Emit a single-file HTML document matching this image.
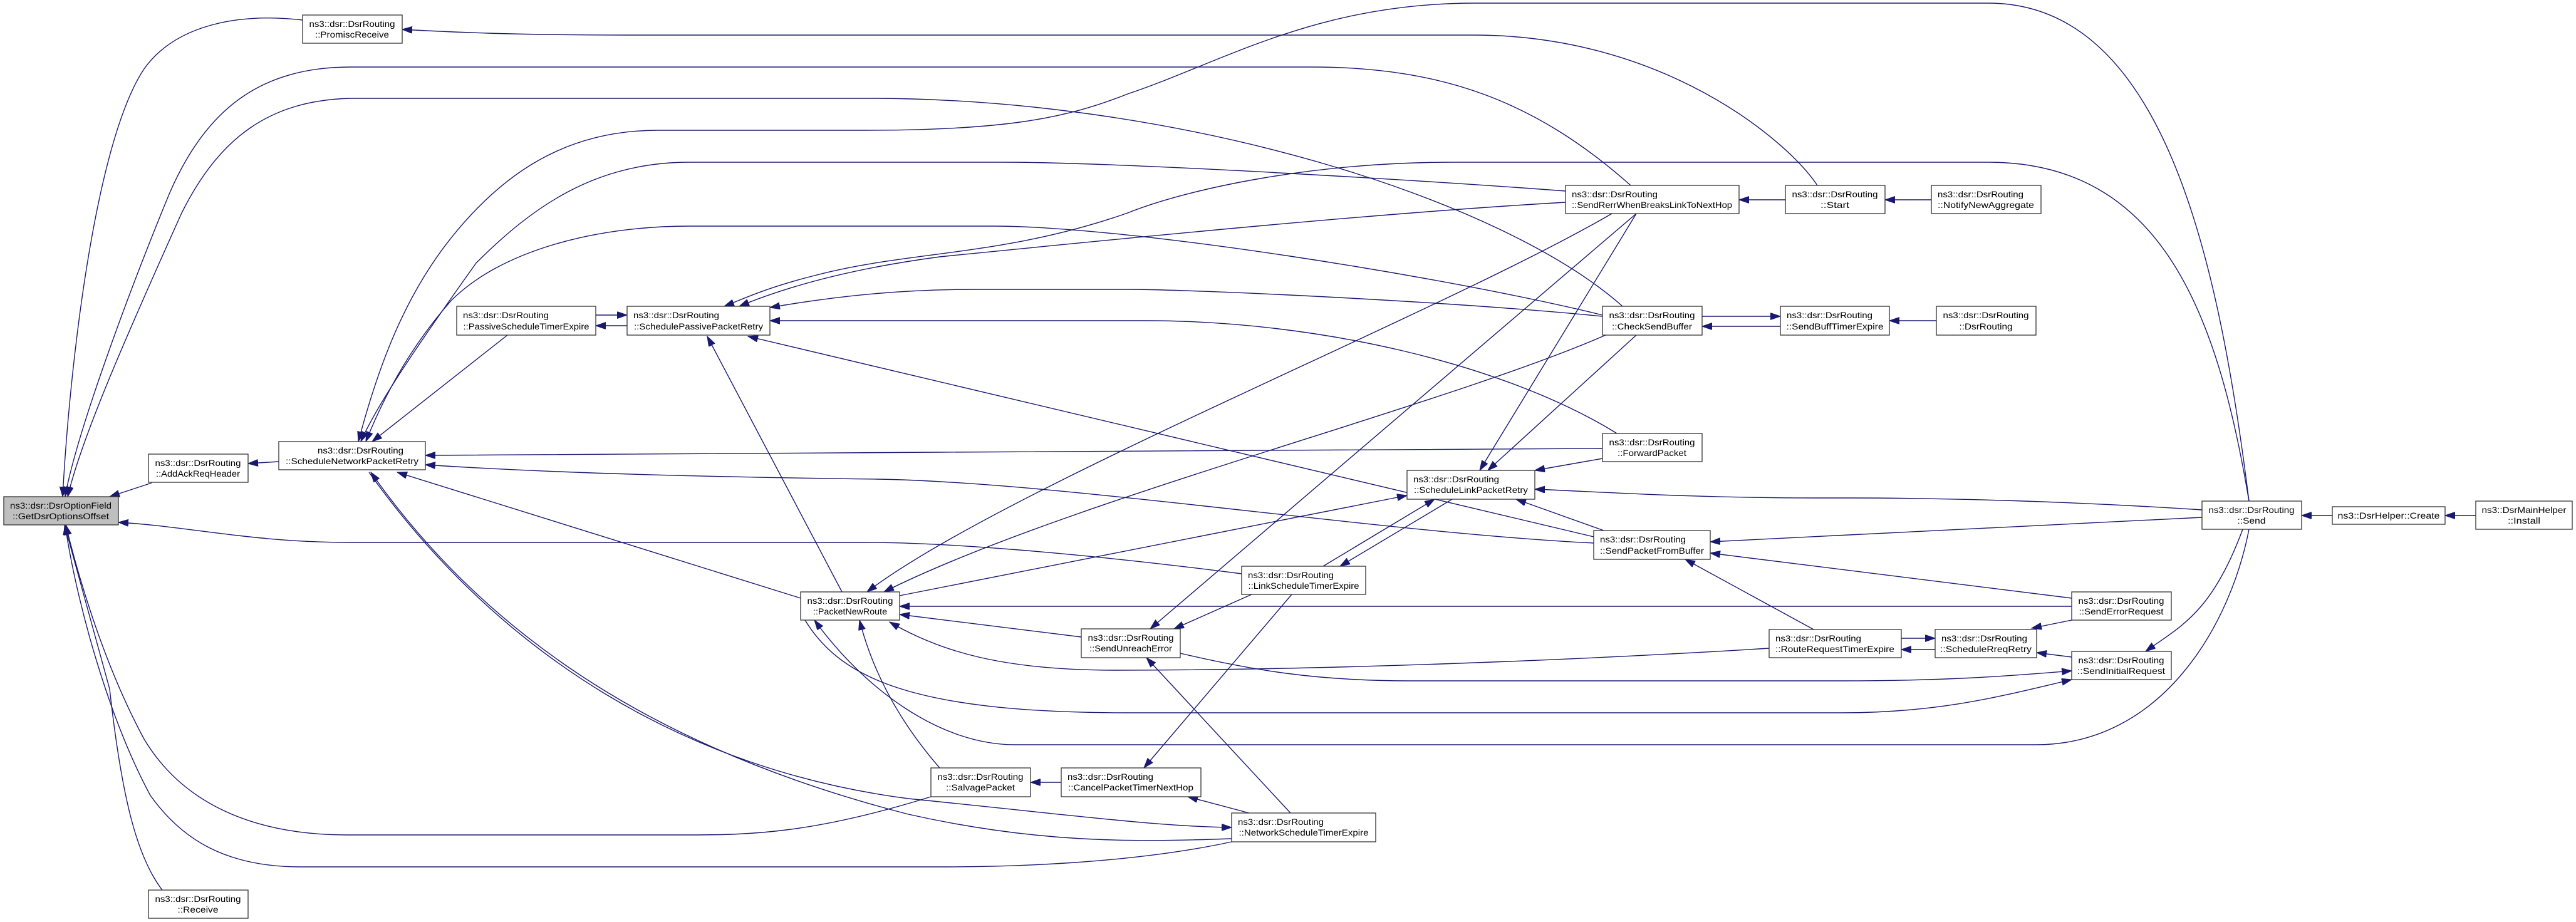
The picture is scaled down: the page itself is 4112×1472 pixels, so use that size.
<!DOCTYPE html>
<html><head><meta charset="utf-8"><style>
html,body{margin:0;padding:0;background:#fff;}
svg{display:block;}
text{font-family:"Liberation Sans",sans-serif;font-size:14px;fill:#000;}
</style></head><body>
<svg width="4112" height="1472" viewBox="0 0 4112 1472" xmlns="http://www.w3.org/2000/svg">
<defs>
<marker id="a" markerUnits="userSpaceOnUse" markerWidth="18" markerHeight="12" refX="16" refY="5.5" orient="auto">
<path d="M0,0 L16,5.5 L0,11 z" fill="#191970" stroke="#191970"/>
</marker>
</defs>
<g fill="none" stroke="#191970" stroke-width="1.4" marker-end="url(#a)">
<path d="M2901,296 C2850,220 2650,56 2353,56 L1000,56 C800,56 700,50 642,47"/>
<path d="M483,32 C380,20 280,40 230,110 C150,230 110,600 100,793"/>
<path d="M2603,296 C2450,160 2300,107 2094,107 L560,107 C420,107 330,170 270,310 C200,480 120,700 104,793"/>
<path d="M2590,489 C2400,320 1900,160 1400,157 L560,157 C430,160 350,220 290,340 C200,540 130,700 108,793"/>
<path d="M3590,800 C3540,400 3450,5 3174,5 L2353,5 C2100,5 1950,100 1800,150 C1700,190 1600,208 1380,208 L1050,208 C900,208 800,280 720,380 C640,480 600,600 572,705"/>
<path d="M2499,305 C2300,290 1800,259 1600,259 L1100,259 C950,259 850,330 760,420 C660,560 600,650 576,705"/>
<path d="M2558,503 C2300,440 1800,361 1585,361 L1100,361 C950,361 800,400 720,480 C650,560 610,640 584,705"/>
<path d="M810,535 L594,705"/>
<path d="M3590,800 C3540,500 3450,259 3174,259 L2317,259 C2100,259 1900,300 1800,340 C1600,410 1450,400 1300,440 C1220,460 1180,480 1156,489"/>
<path d="M2499,323 C2200,340 1800,380 1500,410 C1350,430 1250,460 1180,489"/>
<path d="M2558,505 C2300,480 1900,462 1800,462 L1560,462 C1450,462 1350,470 1229,491"/>
<path d="M2581,692 C2400,580 2100,512 1830,512 L1229,512"/>
<path d="M2544,857 L1194,537"/>
<path d="M1344,945 L1129,537"/>
<path d="M951,503 L1001,503"/>
<path d="M1001,520 L951,520"/>
<path d="M2558,716 L1500,722 L679,727"/>
<path d="M2544,867 C2200,850 1700,770 1400,765 C1000,760 800,750 679,742"/>
<path d="M1278,955 L634,754"/>
<path d="M589,754 C800,1050 1100,1230 1450,1275 C1700,1300 1850,1320 1966,1321"/>
<path d="M1966,1339 C1800,1345 1650,1345 1450,1300 C1100,1210 800,1050 592,754"/>
<path d="M1982,916 C1700,880 1500,866 1380,866 L560,866 C400,866 300,840 189,834"/>
<path d="M1486,1272 C1300,1330 1200,1333 1100,1333 L554,1333 C400,1333 290,1280 230,1180 C160,1050 120,900 105,838"/>
<path d="M1966,1344 C1800,1380 1600,1384 1500,1384 L480,1384 C360,1384 290,1340 240,1270 C170,1140 120,950 104,838"/>
<path d="M259,1421 C220,1370 195,1280 175,1100 L103,838"/>
<path d="M242,771 L175,793"/>
<path d="M445,737 L396,740"/>
<path d="M2573,341 C2300,500 1600,780 1384,945"/>
<path d="M2563,535 C2300,650 1700,800 1411,945"/>
<path d="M1436,951 L2246,791"/>
<path d="M3307,968 L1436,968"/>
<path d="M1726,1017 L1436,981"/>
<path d="M2824,1035 C2500,1055 2100,1070 1780,1070 C1600,1070 1500,1040 1420,993"/>
<path d="M1285,990 C1340,1080 1450,1138 1800,1138 L2940,1138 C3100,1138 3200,1110 3307,1085"/>
<path d="M3590,845 C3560,1000 3450,1189 3250,1189 L1620,1189 C1500,1189 1380,1100 1300,990"/>
<path d="M1500,1226 C1460,1180 1400,1100 1372,990"/>
<path d="M2612,341 L1836,1004"/>
<path d="M1998,949 L1874,1004"/>
<path d="M2060,1298 L1830,1050"/>
<path d="M2062,949 L1826,1226"/>
<path d="M1694,1249 L1645,1249"/>
<path d="M1994,1298 L1896,1272"/>
<path d="M2112,904 L2290,797"/>
<path d="M2318,797 L2139,904"/>
<path d="M2612,341 L2362,751"/>
<path d="M2612,535 L2375,751"/>
<path d="M2558,732 L2450,751"/>
<path d="M3515,814 C3300,800 3100,795 2950,795 L2900,795 C2700,795 2550,785 2450,781"/>
<path d="M2560,847 L2420,797"/>
<path d="M3515,826 L2730,865"/>
<path d="M3307,955 L2730,883"/>
<path d="M2895,1005 L2690,893"/>
<path d="M3035,1019 L3089,1019"/>
<path d="M3089,1037 L3035,1037"/>
<path d="M3307,990 L3243,1003"/>
<path d="M3307,1049 L3251,1042"/>
<path d="M3580,845 C3530,980 3480,1000 3425,1040"/>
<path d="M1884,1043 C2000,1070 2100,1087 2250,1087 L2940,1087 C3100,1087 3200,1080 3307,1071"/>
<path d="M3723,823 L3674,823"/>
<path d="M3952,823 L3903,823"/>
<path d="M2850,319 L2776,319"/>
<path d="M3083,319 L3009,319"/>
<path d="M2717,505 L2842,505"/>
<path d="M2842,521 L2717,521"/>
<path d="M3091,512 L3016,512"/>
</g>
<g stroke="#333" stroke-width="1.3" fill="#fff">
<rect x="6" y="793" width="183" height="45" fill="#bfbfbf"/>
<rect x="483" y="24" width="159" height="45"/>
<rect x="237" y="725" width="159" height="45"/>
<rect x="237" y="1421" width="159" height="45"/>
<rect x="445" y="705" width="234" height="45"/>
<rect x="729" y="489" width="222" height="46"/>
<rect x="1001" y="489" width="228" height="46"/>
<rect x="1278" y="945" width="158" height="45"/>
<rect x="1486" y="1226" width="159" height="46"/>
<rect x="1694" y="1226" width="223" height="46"/>
<rect x="1726" y="1004" width="158" height="46"/>
<rect x="1982" y="904" width="198" height="45"/>
<rect x="1966" y="1298" width="230" height="46"/>
<rect x="2246" y="751" width="204" height="46"/>
<rect x="2499" y="296" width="277" height="45"/>
<rect x="2558" y="489" width="159" height="46"/>
<rect x="2558" y="692" width="159" height="45"/>
<rect x="2544" y="847" width="186" height="46"/>
<rect x="2850" y="296" width="159" height="45"/>
<rect x="3083" y="296" width="175" height="45"/>
<rect x="2842" y="489" width="174" height="46"/>
<rect x="3091" y="489" width="159" height="46"/>
<rect x="2824" y="1005" width="211" height="45"/>
<rect x="3089" y="1005" width="162" height="45"/>
<rect x="3307" y="945" width="159" height="45"/>
<rect x="3307" y="1040" width="159" height="45"/>
<rect x="3515" y="800" width="159" height="45"/>
<rect x="3723" y="809" width="180" height="28"/>
<rect x="3952" y="800" width="154" height="45"/>
</g>
<g text-anchor="middle">
<text x="97" y="812" textLength="162" lengthAdjust="spacingAndGlyphs">ns3::dsr::DsrOptionField</text>
<text x="97" y="829" textLength="154" lengthAdjust="spacingAndGlyphs">::GetDsrOptionsOffset</text>
<text x="562" y="43" textLength="137" lengthAdjust="spacingAndGlyphs">ns3::dsr::DsrRouting</text>
<text x="562" y="60" textLength="118" lengthAdjust="spacingAndGlyphs">::PromiscReceive</text>
<text x="316" y="744" textLength="137" lengthAdjust="spacingAndGlyphs">ns3::dsr::DsrRouting</text>
<text x="316" y="761" textLength="134" lengthAdjust="spacingAndGlyphs">::AddAckReqHeader</text>
<text x="316" y="1440" textLength="137" lengthAdjust="spacingAndGlyphs">ns3::dsr::DsrRouting</text>
<text x="316" y="1457" textLength="65" lengthAdjust="spacingAndGlyphs">::Receive</text>
<text x="507" y="724" text-anchor="start" textLength="137" lengthAdjust="spacingAndGlyphs">ns3::dsr::DsrRouting</text>
<text x="562" y="741" textLength="212" lengthAdjust="spacingAndGlyphs">::ScheduleNetworkPacketRetry</text>
<text x="739" y="508" text-anchor="start" textLength="137" lengthAdjust="spacingAndGlyphs">ns3::dsr::DsrRouting</text>
<text x="840" y="526" textLength="201" lengthAdjust="spacingAndGlyphs">::PassiveScheduleTimerExpire</text>
<text x="1011" y="508" text-anchor="start" textLength="137" lengthAdjust="spacingAndGlyphs">ns3::dsr::DsrRouting</text>
<text x="1115" y="526" textLength="206" lengthAdjust="spacingAndGlyphs">::SchedulePassivePacketRetry</text>
<text x="1357" y="964" textLength="137" lengthAdjust="spacingAndGlyphs">ns3::dsr::DsrRouting</text>
<text x="1357" y="981" textLength="118" lengthAdjust="spacingAndGlyphs">::PacketNewRoute</text>
<text x="1565" y="1245" textLength="137" lengthAdjust="spacingAndGlyphs">ns3::dsr::DsrRouting</text>
<text x="1565" y="1262" textLength="110" lengthAdjust="spacingAndGlyphs">::SalvagePacket</text>
<text x="1704" y="1245" text-anchor="start" textLength="137" lengthAdjust="spacingAndGlyphs">ns3::dsr::DsrRouting</text>
<text x="1805" y="1262" textLength="200" lengthAdjust="spacingAndGlyphs">::CancelPacketTimerNextHop</text>
<text x="1805" y="1023" textLength="137" lengthAdjust="spacingAndGlyphs">ns3::dsr::DsrRouting</text>
<text x="1805" y="1040" textLength="132" lengthAdjust="spacingAndGlyphs">::SendUnreachError</text>
<text x="1992" y="923" text-anchor="start" textLength="137" lengthAdjust="spacingAndGlyphs">ns3::dsr::DsrRouting</text>
<text x="2081" y="940" textLength="177" lengthAdjust="spacingAndGlyphs">::LinkScheduleTimerExpire</text>
<text x="1976" y="1317" text-anchor="start" textLength="137" lengthAdjust="spacingAndGlyphs">ns3::dsr::DsrRouting</text>
<text x="2081" y="1334" textLength="207" lengthAdjust="spacingAndGlyphs">::NetworkScheduleTimerExpire</text>
<text x="2256" y="770" text-anchor="start" textLength="137" lengthAdjust="spacingAndGlyphs">ns3::dsr::DsrRouting</text>
<text x="2348" y="787" textLength="182" lengthAdjust="spacingAndGlyphs">::ScheduleLinkPacketRetry</text>
<text x="2509" y="315" text-anchor="start" textLength="137" lengthAdjust="spacingAndGlyphs">ns3::dsr::DsrRouting</text>
<text x="2637" y="332" textLength="256" lengthAdjust="spacingAndGlyphs">::SendRerrWhenBreaksLinkToNextHop</text>
<text x="2637" y="508" textLength="137" lengthAdjust="spacingAndGlyphs">ns3::dsr::DsrRouting</text>
<text x="2637" y="526" textLength="128" lengthAdjust="spacingAndGlyphs">::CheckSendBuffer</text>
<text x="2637" y="711" textLength="137" lengthAdjust="spacingAndGlyphs">ns3::dsr::DsrRouting</text>
<text x="2637" y="728" textLength="110" lengthAdjust="spacingAndGlyphs">::ForwardPacket</text>
<text x="2554" y="866" text-anchor="start" textLength="137" lengthAdjust="spacingAndGlyphs">ns3::dsr::DsrRouting</text>
<text x="2637" y="884" textLength="166" lengthAdjust="spacingAndGlyphs">::SendPacketFromBuffer</text>
<text x="2929" y="315" textLength="137" lengthAdjust="spacingAndGlyphs">ns3::dsr::DsrRouting</text>
<text x="2929" y="332" textLength="46" lengthAdjust="spacingAndGlyphs">::Start</text>
<text x="3093" y="315" text-anchor="start" textLength="137" lengthAdjust="spacingAndGlyphs">ns3::dsr::DsrRouting</text>
<text x="3170" y="332" textLength="154" lengthAdjust="spacingAndGlyphs">::NotifyNewAggregate</text>
<text x="2852" y="508" text-anchor="start" textLength="137" lengthAdjust="spacingAndGlyphs">ns3::dsr::DsrRouting</text>
<text x="2929" y="526" textLength="155" lengthAdjust="spacingAndGlyphs">::SendBuffTimerExpire</text>
<text x="3170" y="508" textLength="137" lengthAdjust="spacingAndGlyphs">ns3::dsr::DsrRouting</text>
<text x="3170" y="526" textLength="85" lengthAdjust="spacingAndGlyphs">::DsrRouting</text>
<text x="2834" y="1024" text-anchor="start" textLength="137" lengthAdjust="spacingAndGlyphs">ns3::dsr::DsrRouting</text>
<text x="2929" y="1041" textLength="190" lengthAdjust="spacingAndGlyphs">::RouteRequestTimerExpire</text>
<text x="3099" y="1024" text-anchor="start" textLength="137" lengthAdjust="spacingAndGlyphs">ns3::dsr::DsrRouting</text>
<text x="3170" y="1041" textLength="146" lengthAdjust="spacingAndGlyphs">::ScheduleRreqRetry</text>
<text x="3386" y="964" textLength="137" lengthAdjust="spacingAndGlyphs">ns3::dsr::DsrRouting</text>
<text x="3386" y="981" textLength="135" lengthAdjust="spacingAndGlyphs">::SendErrorRequest</text>
<text x="3386" y="1059" textLength="137" lengthAdjust="spacingAndGlyphs">ns3::dsr::DsrRouting</text>
<text x="3386" y="1076" textLength="140" lengthAdjust="spacingAndGlyphs">::SendInitialRequest</text>
<text x="3594" y="819" textLength="137" lengthAdjust="spacingAndGlyphs">ns3::dsr::DsrRouting</text>
<text x="3594" y="836" textLength="45" lengthAdjust="spacingAndGlyphs">::Send</text>
<text x="3813" y="828" textLength="163" lengthAdjust="spacingAndGlyphs">ns3::DsrHelper::Create</text>
<text x="4029" y="819" textLength="135" lengthAdjust="spacingAndGlyphs">ns3::DsrMainHelper</text>
<text x="4029" y="836" textLength="52" lengthAdjust="spacingAndGlyphs">::Install</text>
</g>
</svg>
</body></html>
